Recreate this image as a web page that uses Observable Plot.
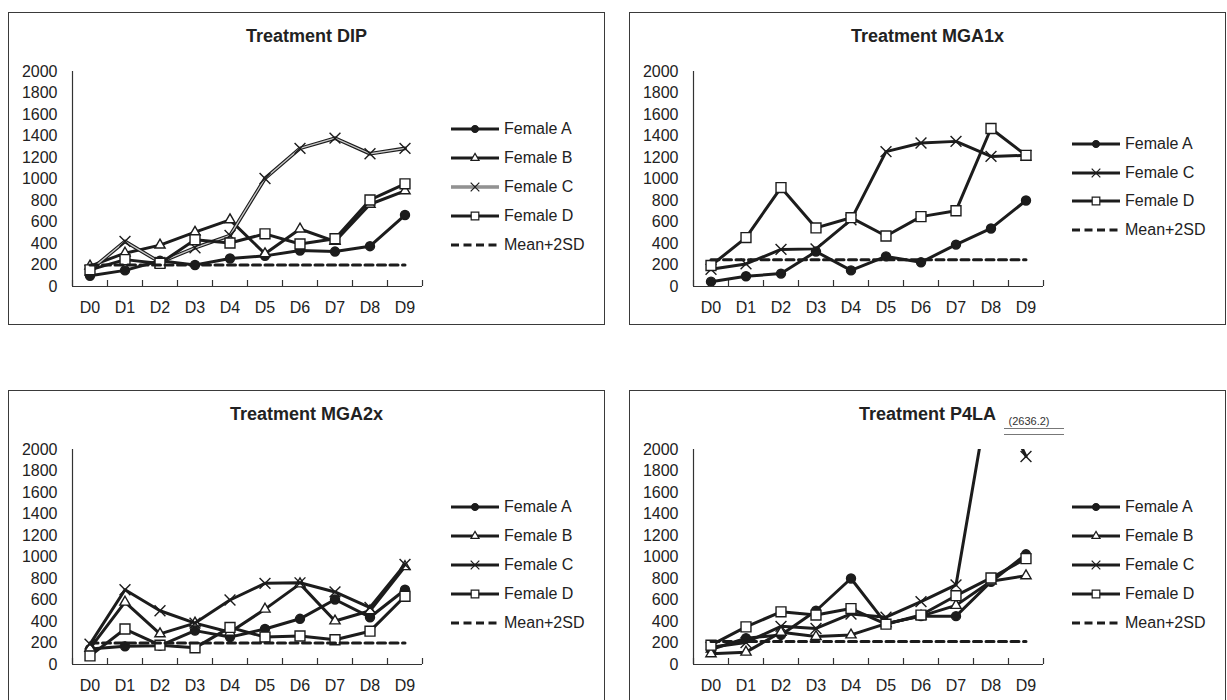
<!DOCTYPE html>
<html><head><meta charset="utf-8">
<script src="https://cdn.jsdelivr.net/npm/d3@7"></script>
<script src="https://cdn.jsdelivr.net/npm/@observablehq/plot@0.6"></script>
<style>
body{margin:0;background:#fff;font-family:"Liberation Sans",Arial,Helvetica,sans-serif;color:#222;}
#root{position:relative;width:1227px;height:700px;overflow:hidden;background:#fff;}
.box{position:absolute;border:1.3px solid #3a3a3a;box-sizing:border-box;}
.plotwrap{position:absolute;}
.title{position:absolute;text-align:center;font-weight:bold;font-size:18px;line-height:18px;color:#222;}
.leg{position:absolute;display:flex;align-items:center;height:16px;font-size:16px;line-height:16px;color:#222;white-space:nowrap;}
.leg svg{margin-right:5px;overflow:visible;}
.note{position:absolute;font-size:11px;line-height:11px;text-align:center;color:#333;}
.brk{position:absolute;height:0;border-top:1.5px solid #777;}
</style></head><body><div id="root"></div><script>
// ---- data ----
const days = ["D0","D1","D2","D3","D4","D5","D6","D7","D8","D9"];
const yTicks = [0,200,400,600,800,1000,1200,1400,1600,1800,2000];
const seriesNames = ["Female A","Female B","Female C","Female D"];
const meanName = "Mean+2SD";

const dipA = [100,150,240,200,260,285,335,325,375,665];
const dipB = [190,310,385,505,620,305,535,420,765,890];
const dipC = [150,420,225,360,475,1005,1285,1380,1235,1285];
const dipD = [155,250,215,435,405,490,395,445,805,955];
const dipMean = 200;

const mga1A = [45,95,120,325,150,280,225,390,540,800];
const mga1C = [160,210,345,350,620,1255,1335,1350,1210,1220];
const mga1D = [195,455,920,545,640,470,650,705,1470,1220];
const mga1Mean = 250;

const mga2A = [145,170,175,315,255,330,425,605,440,695];
const mga2B = [150,580,285,385,300,515,750,405,500,910];
const mga2C = [190,695,500,385,600,755,760,675,530,930];
const mga2D = [80,330,180,155,345,255,265,230,310,635];
const mga2Mean = 200;

const p4A = [140,245,275,500,800,380,450,450,770,1025];
const p4B = [100,115,300,260,275,380,450,550,775,825];
const p4C = [160,205,355,335,470,440,585,740,2636.2,1935];
const p4D = [180,350,490,460,520,375,460,640,805,985];
const p4Mean = 215;

// ---- layout / style ----
const PW = 597, PH = 313;
const panels = [
  {title:"Treatment DIP", left:8, top:12, series:{"Female A":dipA,"Female B":dipB,"Female C":dipC,"Female D":dipD}, mean:dipMean, doubleC:true},
  {title:"Treatment MGA1x", left:629, top:12, series:{"Female A":mga1A,"Female C":mga1C,"Female D":mga1D}, mean:mga1Mean},
  {title:"Treatment MGA2x", left:8, top:390, series:{"Female A":mga2A,"Female B":mga2B,"Female C":mga2C,"Female D":mga2D}, mean:mga2Mean},
  {title:"Treatment P4LA", left:629, top:390, series:{"Female A":p4A,"Female B":p4B,"Female C":p4C,"Female D":p4D}, mean:p4Mean, note:true}
];
const INK = "#1c1c1c";
const sym = {
  "Female A": {symbol:"circle", fill:INK, stroke:INK, r:4.5, lr:3.4},
  "Female B": {symbol:"triangle", fill:"white", stroke:INK, r:3.8, lr:3.0},
  "Female C": {symbol:"times", fill:"none", stroke:INK, r:5, lr:4.0},
  "Female D": {symbol:"square", fill:"white", stroke:INK, r:5.6, lr:4.3}
};
const M = {left:64, right:183, top:59, bottom:39};
const frameH = PH - M.top - M.bottom;
const tickLen = 6 * 2000 / frameH;
const bounds = d3.range(days.length + 1).map(i => i - 0.5);

const root = document.getElementById("root");

function el(tag, cls, css, parent){ const e=document.createElement(tag); if(cls) e.className=cls; Object.assign(e.style, css||{}); (parent||root).appendChild(e); return e; }

function markerSvg(name, double, dashed){
  const ns="http://www.w3.org/2000/svg";
  const s=document.createElementNS(ns,"svg"); s.setAttribute("width",48); s.setAttribute("height",16);
  const line=(w,c,dash)=>{const l=document.createElementNS(ns,"line"); l.setAttribute("x1",0);l.setAttribute("x2",48);l.setAttribute("y1",8);l.setAttribute("y2",8);l.setAttribute("stroke",c);l.setAttribute("stroke-width",w); if(dash) l.setAttribute("stroke-dasharray",dash); s.appendChild(l);};
  if(dashed){ line(3,INK,"8,4.5"); return s; }
  if(double){ line(3.2,"#555"); line(1.2,"#d0d0d0"); } else line(3,INK);
  const st=sym[name];
  const g=document.createElementNS(ns,"path");
  const symType = {circle:d3.symbolCircle, triangle:d3.symbolTriangle, times:d3.symbolTimes, square:d3.symbolSquare}[st.symbol];
  g.setAttribute("d", d3.symbol(symType, Math.PI*st.lr*st.lr)());
  g.setAttribute("transform","translate(24,8)");
  g.setAttribute("fill",st.fill); g.setAttribute("stroke",st.stroke); g.setAttribute("stroke-width",1.2);
  s.appendChild(g);
  return s;
}

for(const p of panels){
  const names = Object.keys(p.series);
  const marks = [
    Plot.ruleY([0], {stroke:"#333", strokeWidth:1.2}),
    Plot.ruleX([-0.5], {stroke:"#333", strokeWidth:1.2}),
    Plot.ruleX(bounds, {x:d=>d, y1:0, y2:tickLen, stroke:"#333", strokeWidth:1.2})
  ];
  for(const n of names){
    const rows = p.series[n].map((v,i)=>({i, v}));
    if(n==="Female C" && p.doubleC){
      marks.push(Plot.line(rows,{x:"i", y:"v", stroke:INK, strokeWidth:3.6, clip:true}));
      marks.push(Plot.line(rows,{x:"i", y:"v", stroke:"#c8c8c8", strokeWidth:1.3, clip:true}));
    } else {
      marks.push(Plot.line(rows,{x:"i", y:"v", stroke:INK, strokeWidth:3, clip:true}));
    }
    const st = sym[n];
    marks.push(Plot.dot(rows,{x:"i", y:"v", symbol:st.symbol, fill:st.fill, stroke:st.stroke, r:st.r, strokeWidth:1.4, clip:true}));
  }
  const meanRows = days.map((d,i)=>({i, v:p.mean}));
  marks.push(Plot.line(meanRows,{x:"i", y:"v", stroke:INK, strokeWidth:3, strokeDasharray:"8,4.5"}));

  const chart = Plot.plot({
    width:PW, height:PH,
    marginLeft:M.left, marginRight:M.right, marginTop:M.top, marginBottom:M.bottom,
    x:{domain:[-0.5, days.length-0.5], ticks:d3.range(days.length), tickFormat:i=>days[i], tickSize:0, tickPadding:15, label:null},
    y:{domain:[0,2000], ticks:yTicks, tickFormat:d=>String(d), tickSize:0, tickPadding:15, label:null},
    style:{fontFamily:'"Liberation Sans",Arial,Helvetica,sans-serif', fontSize:"16px", color:"#222", background:"none", overflow:"visible"},
    marks
  });
  const wrap = el("div","plotwrap",{left:p.left+"px", top:p.top+"px", width:PW+"px", height:PH+"px"});
  wrap.appendChild(chart);
  el("div","box",{left:p.left+"px", top:p.top+"px", width:PW+"px", height:PH+"px"});
  const t = el("div","title",{left:p.left+"px", top:(p.top+15)+"px", width:PW+"px"}); t.textContent=p.title;

  const items = names.concat([meanName]);
  const n = items.length;
  items.forEach((name,k)=>{
    const cy = p.top + 175 + (k-(n-1)/2)*28.8;
    const row = el("div","leg",{left:(p.left+443)+"px", top:(cy-8)+"px"});
    row.appendChild(markerSvg(name, name==="Female C" && p.doubleC, name===meanName));
    const sp=document.createElement("span"); sp.textContent=name; row.appendChild(sp);
  });

  if(p.note){
    const nt = el("div","note",{left:(p.left+360)+"px", top:(p.top+26)+"px", width:"80px"});
    nt.textContent = "(" + p.series["Female C"][8] + ")";
    el("div","brk",{left:(p.left+375)+"px", top:(p.top+38)+"px", width:"60px"});
    el("div","brk",{left:(p.left+375)+"px", top:(p.top+44)+"px", width:"60px"});
  }
}
</script></body></html>
